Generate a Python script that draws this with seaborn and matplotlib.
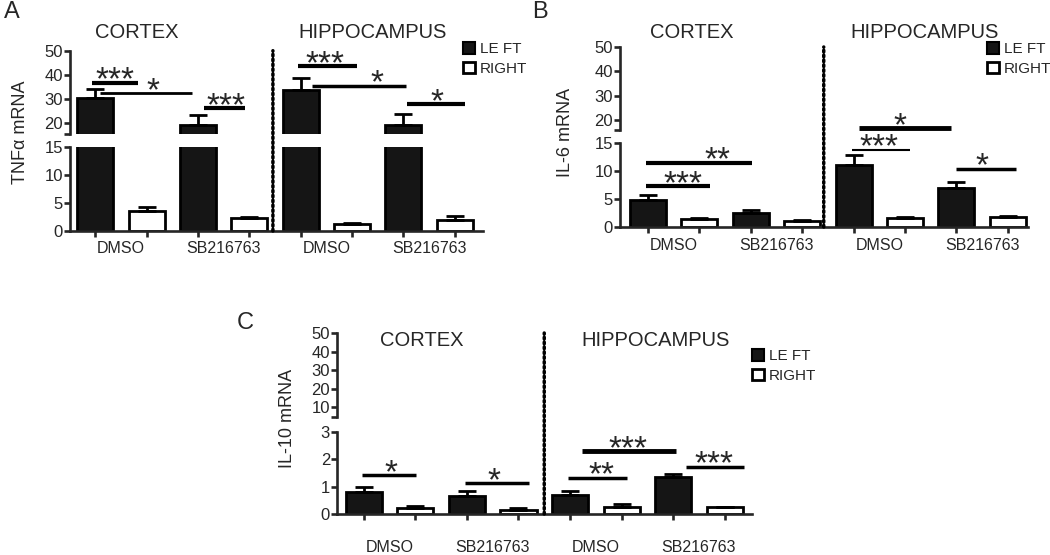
import numpy as np
import pandas as pd
import matplotlib
matplotlib.use("Agg")
import matplotlib.pyplot as plt
import seaborn as sns
from matplotlib.patches import Patch, ConnectionPatch

# ---- data ----
group_labels = ["DMSO", "SB216763", "DMSO", "SB216763"]
sides = ["LE FT", "RIGHT"] * 4
slots = np.arange(8)

tnf_mean = [30.6, 3.6, 19.2, 2.3, 33.9, 1.25, 19.2, 2.0]
tnf_sem = [3.7, 0.7, 4.1, 0.2, 4.9, 0.15, 4.5, 0.7]

il6_mean = [4.8, 1.4, 2.5, 1.1, 11.1, 1.6, 6.9, 1.75]
il6_sem = [0.9, 0.2, 0.5, 0.15, 1.8, 0.15, 1.2, 0.15]

il10_mean = [0.81, 0.21, 0.66, 0.16, 0.71, 0.27, 1.34, 0.25]
il10_sem = [0.19, 0.07, 0.19, 0.06, 0.14, 0.09, 0.14, 0.02]

# significance bars: (x start, x end, y, stars, star x, line width)
tnf_sig = [(-0.06, 0.84, 36.7, "***", 0.39, 3), (0.10, 1.89, 32.4, "*", 1.13, 2),
           (2.12, 2.92, 26.1, "***", 2.55, 3), (3.95, 5.10, 43.7, "***", 4.47, 3),
           (4.22, 6.05, 35.5, "*", 5.49, 2.5), (6.07, 7.20, 27.8, "*", 6.65, 3)]
il6_sig = [(-0.04, 1.20, 7.3, "***", 0.68, 3), (-0.04, 2.03, 11.5, "**", 1.36, 3),
           (4.10, 5.90, 17.6, "*", 4.90, 3.5), (3.97, 5.10, 13.8, "***", 4.50, 1.5),
           (6.00, 7.15, 10.4, "*", 6.49, 2.5)]
il10_sig = [(-0.04, 1.01, 1.41, "*", 0.52, 2.5), (1.96, 3.20, 1.13, "*", 2.52, 2.5),
            (3.96, 5.10, 1.33, "**", 4.62, 2.5), (4.23, 6.06, 2.30, "***", 5.13, 3.5),
            (6.25, 7.38, 1.73, "***", 6.80, 2.5)]

W, H = 1050, 555
sns.set_style("ticks")
plt.rcParams["font.family"] = ["Liberation Sans", "DejaVu Sans"]
plt.rcParams["axes.linewidth"] = 1.9

fig = plt.figure(figsize=(W / 100, H / 100), dpi=100)


def fx(px, py):
    # pixel position -> figure fraction
    return px / W, 1 - py / H


def rect(left, right, top, bottom):
    return [left / W, 1 - bottom / H, (right - left) / W, (bottom - top) / H]


colors = {"LE FT": "#151515", "RIGHT": "white"}


def panel(lo_rect, up_rect, lo_ylim, up_ylim, lo_ticks, up_ticks, xlim,
          means, sems, sig, sig_ax, divider, xpad):
    df = pd.DataFrame({"slot": slots, "value": means, "side": sides})
    ax_lo = fig.add_axes(lo_rect)
    ax_up = fig.add_axes(up_rect)
    for ax in (ax_lo, ax_up):
        ax.patch.set_visible(False)
        sns.barplot(data=df, x="slot", y="value", hue="side", hue_order=["LE FT", "RIGHT"],
                    palette=colors, native_scale=True, dodge=False, width=0.7,
                    edgecolor="black", linewidth=2, errorbar=None, legend=False, ax=ax)
        ax.errorbar(slots, means, yerr=[np.zeros(8), sems], fmt="none", ecolor="black",
                    elinewidth=2, capsize=6.5, capthick=2, zorder=5)
        ax.set_xlim(*xlim)
        ax.set_xlabel("")
        ax.set_ylabel("")
        sns.despine(ax=ax)
        ax.tick_params(axis="y", length=4, width=1.9, pad=1, labelsize=12)
    ax_lo.set_ylim(*lo_ylim)
    ax_up.set_ylim(*up_ylim)
    ax_lo.set_yticks(lo_ticks, [str(t) for t in lo_ticks])
    ax_up.set_yticks([up_ylim[0]] + up_ticks, [""] + [str(t) for t in up_ticks])
    ax_up.spines["bottom"].set_visible(False)
    ax_up.tick_params(axis="x", bottom=False, labelbottom=False)

    # bar ticks, labels centred under each pair
    ax_lo.set_xticks(slots, [""] * 8)
    ax_lo.set_xticks([0.5, 2.5, 4.5, 6.5], group_labels, minor=True)
    ax_lo.tick_params(axis="x", which="major", length=4, width=1.9)
    ax_lo.tick_params(axis="x", which="minor", length=0, pad=xpad, labelsize=11.5)

    # dotted separator between cortex and hippocampus
    con = ConnectionPatch(xyA=(divider, 0), coordsA=ax_lo.transData,
                          xyB=(divider, up_ylim[1]), coordsB=ax_up.transData,
                          color="black", lw=2.5, linestyle=(0, (0.5, 0.9)))
    fig.add_artist(con)

    target = ax_lo if sig_ax == "lo" else ax_up
    for x1, x2, y, stars, tx, lw in sig:
        target.plot([x1, x2], [y, y], color="black", lw=lw, clip_on=False,
                    solid_capstyle="butt", zorder=6)
        target.annotate(stars, xy=(tx, y), xytext=(0, -5), textcoords="offset points",
                        ha="center", va="baseline", fontsize=24, annotation_clip=False,
                        zorder=6)
    return ax_lo, ax_up


# Panel A - TNFa
panel(rect(70, 483, 147, 231), rect(70, 483, 50.7, 134), (0, 15), (15.5, 50),
      [0, 5, 10, 15], [20, 30, 40, 50], (-0.49, 7.55), tnf_mean, tnf_sem, tnf_sig, "up", 3.46, 7)
# Panel B - IL-6
panel(rect(620, 1028, 143, 227), rect(620, 1028, 47, 130), (0, 15), (15.9, 50),
      [0, 5, 10, 15], [20, 30, 40, 50], (-0.54, 7.39), il6_mean, il6_sem, il6_sig, "lo", 3.42, 8)
# Panel C - IL-10
panel(rect(337, 752, 432, 514), rect(337, 752, 333, 417), (0, 3), (4.6, 50),
      [0, 1, 2, 3], [10, 20, 30, 40, 50], (-0.52, 7.53), il10_mean, il10_sem, il10_sig, "lo", 3.5, 19)

# titles, panel letters, axis labels
for px, py, s in [(137, 33, "CORTEX"), (373, 33, "HIPPOCAMPUS"), (692, 33, "CORTEX"),
                  (925, 33, "HIPPOCAMPUS"), (422, 341, "CORTEX"), (656, 340, "HIPPOCAMPUS")]:
    fig.text(*fx(px, py), s, ha="center", va="center", fontsize=14.5)
for px, py, s in [(12, 12, "A"), (540, 12, "B"), (245, 323, "C")]:
    fig.text(*fx(px, py), s, ha="center", va="center", fontsize=17)
for px, py, s in [(21, 132, "TNFα mRNA"), (566, 132, "IL-6 mRNA"), (288, 418, "IL-10 mRNA")]:
    fig.text(*fx(px, py), s, ha="center", va="center", rotation=90, fontsize=13)

# legends
handles = [Patch(facecolor=colors["LE FT"], edgecolor="black", linewidth=1.5),
           Patch(facecolor="white", edgecolor="black", linewidth=2)]
for px, py in [(463, 42), (987, 42), (752, 349)]:
    fig.legend(handles, ["LE FT", "RIGHT"], loc="upper left", bbox_to_anchor=fx(px, py),
               frameon=False, fontsize=11, handlelength=0.8, handleheight=0.8,
               handletextpad=0.3, labelspacing=0.35, borderpad=0, borderaxespad=0)

fig.savefig("out.png", dpi=100)
